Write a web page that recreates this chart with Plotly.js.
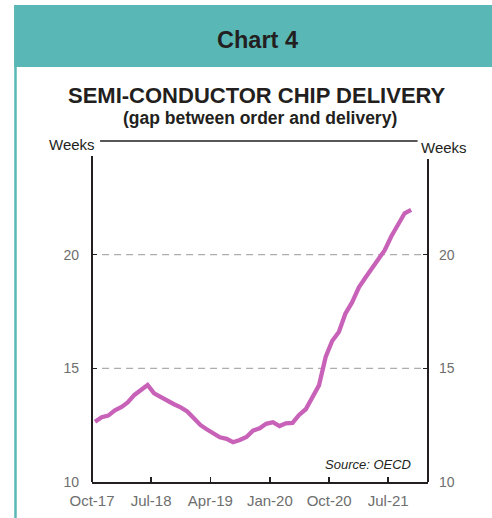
<!DOCTYPE html>
<html>
<head>
<meta charset="utf-8">
<script src="https://cdn.plot.ly/plotly-3.0.1.min.js"></script>
<style>
html,body{margin:0;padding:0;background:#fff;}
#chart{width:492px;height:518px;}
</style>
</head>
<body>
<div id="chart"></div>
<script>
// Monthly observations, Oct-2017 .. Oct-2021 (weeks between order and delivery)
var months = [
  '2017-10','2017-11','2017-12','2018-01','2018-02','2018-03','2018-04','2018-05','2018-06','2018-07',
  '2018-08','2018-09','2018-10','2018-11','2018-12','2019-01','2019-02','2019-03','2019-04','2019-05',
  '2019-06','2019-07','2019-08','2019-09','2019-10','2019-11','2019-12','2020-01','2020-02','2020-03',
  '2020-04','2020-05','2020-06','2020-07','2020-08','2020-09','2020-10','2020-11','2020-12','2021-01',
  '2021-02','2021-03','2021-04','2021-05','2021-06','2021-07','2021-08','2021-09','2021-10'
];
var weeks = [
  12.65,12.85,12.92,13.15,13.3,13.5,13.83,14.05,14.27,13.9,
  13.72,13.55,13.42,13.28,13.1,12.8,12.5,12.32,12.12,11.97,
  11.9,11.75,11.85,11.98,12.26,12.36,12.56,12.63,12.46,12.58,
  12.6,12.95,13.2,13.7,14.25,15.5,16.2,16.6,17.4,17.9,
  18.55,18.95,19.35,19.8,20.2,20.8,21.3,21.82,21.97
];
var tickDates = ['2017-10-01','2018-07-01','2019-04-01','2020-01-01','2020-10-01','2021-07-01'];
var tickLabels = ['Oct-17','Jul-18','Apr-19','Jan-20','Oct-20','Jul-21'];
var yTicks = [10,15,20];
var gridLevels = [15,20];

var xDates = months.map(function(m){ return m + '-15'; });

var FONT = 'Liberation Sans, Arial, sans-serif';
var DARK = '#231F20';
var GREY = '#6E6E6E';
var TEAL = '#59B8B5';

var trace = {
  x: xDates, y: weeks, type: 'scatter', mode: 'lines',
  line: {color: '#C862B8', width: 4.3},
  hoverinfo: 'skip', showlegend: false
};
var dummy = {x: [xDates[0]], y: [weeks[0]], yaxis: 'y2', type: 'scatter', mode: 'none', showlegend: false, hoverinfo: 'skip'};

var shapes = [
  // header band
  {type: 'rect', xref: 'paper', yref: 'paper', x0: -0.232, x1: 1.2, y0: 1.217, y1: 1.399,
   fillcolor: TEAL, line: {width: 0}, layer: 'below'},
  // left teal border
  {type: 'line', xref: 'paper', yref: 'paper', x0: -0.2277, x1: -0.2277, y0: -0.12, y1: 1.217,
   line: {color: TEAL, width: 2.5}},
  // top frame line
  {type: 'line', xref: 'paper', yref: 'paper', x0: 0.024, x1: 0.969, y0: 1, y1: 1,
   line: {color: DARK, width: 1.5}},
  // left axis line
  {type: 'line', xref: 'paper', yref: 'paper', x0: 0, x1: 0, y0: 0, y1: 0.956,
   line: {color: DARK, width: 2}},
  // right axis line
  {type: 'line', xref: 'paper', yref: 'paper', x0: 1, x1: 1, y0: 0, y1: 0.947,
   line: {color: DARK, width: 2}}
];
gridLevels.forEach(function(v){
  shapes.push({type: 'line', xref: 'paper', yref: 'y', x0: 0.03, x1: 0.985, y0: v, y1: v,
    line: {color: '#ADADAD', width: 1.4, dash: '7px,5px'}, layer: 'below'});
});

var layout = {
  width: 492, height: 518,
  margin: {l: 92, r: 64, t: 141, b: 36, pad: 0},
  paper_bgcolor: '#fff', plot_bgcolor: '#fff',
  font: {family: FONT, color: DARK},
  xaxis: {
    type: 'date', range: ['2017-10-01','2022-01-01'],
    tickvals: tickDates, ticktext: tickLabels,
    ticks: 'inside', ticklen: 5, tickwidth: 1.5, tickcolor: DARK,
    showline: true, linecolor: DARK, linewidth: 2,
    showgrid: false, zeroline: false,
    tickfont: {family: FONT, size: 15, color: GREY},
    ticklabelstandoff: 4, fixedrange: true
  },
  yaxis: {
    range: [10,25], tickvals: yTicks, ticktext: yTicks.map(String),
    ticks: 'inside', ticklen: 5, tickwidth: 1.5, tickcolor: DARK,
    showline: false, zeroline: false, showgrid: false,
    tickfont: {family: FONT, size: 14, color: GREY},
    ticklabelstandoff: 12, fixedrange: true
  },
  yaxis2: {
    range: [10,25], tickvals: yTicks, ticktext: yTicks.map(String),
    overlaying: 'y', side: 'right',
    ticks: 'inside', ticklen: 5, tickwidth: 1.5, tickcolor: DARK,
    showline: false, zeroline: false, showgrid: false,
    tickfont: {family: FONT, size: 14, color: GREY},
    ticklabelstandoff: 10, fixedrange: true
  },
  shapes: shapes,
  annotations: [
    {text: '<b>Chart 4</b>', xref: 'paper', yref: 'paper', x: 0.4926, y: 1.296,
     xanchor: 'center', yanchor: 'middle', showarrow: false, font: {family: FONT, size: 23.5, color: DARK}},
    {text: '<b>SEMI-CONDUCTOR CHIP DELIVERY</b>', xref: 'paper', yref: 'paper', x: 0.4923, y: 1.1328,
     xanchor: 'center', yanchor: 'middle', showarrow: false, font: {family: FONT, size: 22, color: DARK}},
    {text: '<b>(gap between order and delivery)</b>', xref: 'paper', yref: 'paper', x: 0.5, y: 1.0689,
     xanchor: 'center', yanchor: 'middle', showarrow: false, font: {family: FONT, size: 17.5, color: DARK}},
    {text: 'Weeks', xref: 'paper', yref: 'paper', x: -0.061, y: 0.991,
     xanchor: 'center', yanchor: 'middle', showarrow: false, font: {family: FONT, size: 15, color: DARK}},
    {text: 'Weeks', xref: 'paper', yref: 'paper', x: 1.0476, y: 0.982,
     xanchor: 'center', yanchor: 'middle', showarrow: false, font: {family: FONT, size: 15, color: DARK}},
    {text: '<i>Source: OECD</i>', xref: 'paper', yref: 'paper', x: 0.955, y: 0.05,
     xanchor: 'right', yanchor: 'middle', showarrow: false, font: {family: FONT, size: 13, color: DARK}}
  ]
};

Plotly.newPlot('chart', [trace, dummy], layout, {staticPlot: true, displayModeBar: false});
</script>
</body>
</html>
